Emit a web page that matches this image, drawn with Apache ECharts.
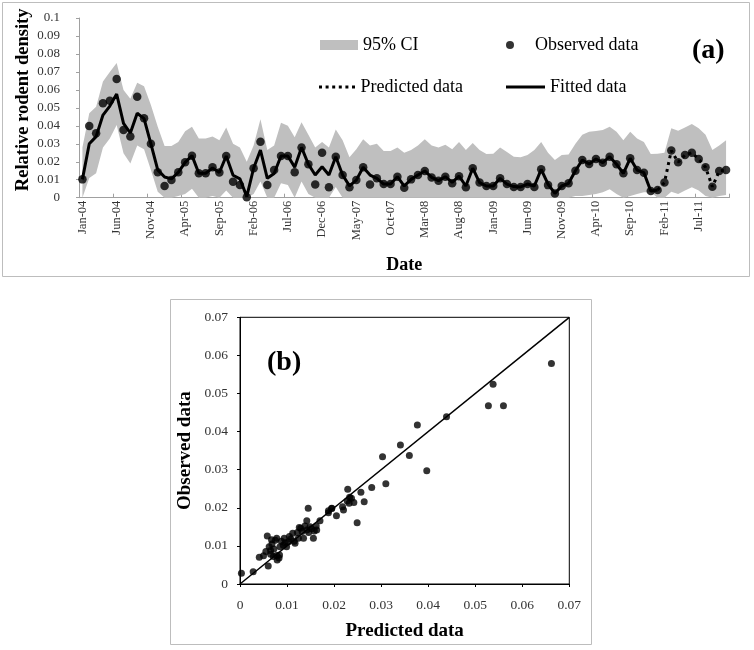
<!DOCTYPE html>
<html><head><meta charset="utf-8">
<script src="https://cdn.jsdelivr.net/npm/echarts@6/dist/echarts.min.js"></script>
<style>html,body{margin:0;padding:0;background:#fff}#c{width:754px;height:650px}</style>
</head><body><div id="c"></div>
<script>
// ---------- Panel (a) data ----------
const months = [
 'Jan-04','Feb-04','Mar-04','Apr-04','May-04','Jun-04','Jul-04','Aug-04','Sep-04','Oct-04','Nov-04','Dec-04',
 'Jan-05','Feb-05','Mar-05','Apr-05','May-05','Jun-05','Jul-05','Aug-05','Sep-05','Oct-05','Nov-05','Dec-05',
 'Jan-06','Feb-06','Mar-06','Apr-06','May-06','Jun-06','Jul-06','Aug-06','Sep-06','Oct-06','Nov-06','Dec-06',
 'Jan-07','Feb-07','Mar-07','Apr-07','May-07','Jun-07','Jul-07','Aug-07','Sep-07','Oct-07','Nov-07','Dec-07',
 'Jan-08','Feb-08','Mar-08','Apr-08','May-08','Jun-08','Jul-08','Aug-08','Sep-08','Oct-08','Nov-08','Dec-08',
 'Jan-09','Feb-09','Mar-09','Apr-09','May-09','Jun-09','Jul-09','Aug-09','Sep-09','Oct-09','Nov-09','Dec-09',
 'Jan-10','Feb-10','Mar-10','Apr-10','May-10','Jun-10','Jul-10','Aug-10','Sep-10','Oct-10','Nov-10','Dec-10',
 'Jan-11','Feb-11','Mar-11','Apr-11','May-11','Jun-11','Jul-11','Aug-11','Sep-11','Oct-11','Nov-11'
];
const observed = [
 0.0102,0.0399,0.0358,0.0525,0.0540,0.0660,0.0377,0.0340,0.0562,0.0442,0.0300,0.0141,
 0.0065,0.0098,0.0141,0.0197,0.0234,0.0136,0.0136,0.0170,0.0140,0.0232,0.0089,0.0071,
 0.0003,0.0164,0.0312,0.0071,0.0154,0.0232,0.0232,0.0141,0.0280,0.0186,0.0074,0.0250,
 0.0058,0.0228,0.0126,0.0058,0.0098,0.0169,0.0074,0.0108,0.0076,0.0076,0.0117,0.0056,
 0.0102,0.0126,0.0149,0.0113,0.0095,0.0117,0.0080,0.0120,0.0058,0.0164,0.0084,0.0065,
 0.0065,0.0108,0.0076,0.0060,0.0060,0.0076,0.0060,0.0158,0.0070,0.0024,0.0065,0.0080,
 0.0150,0.0210,0.0188,0.0215,0.0195,0.0228,0.0186,0.0136,0.0219,0.0154,0.0139,0.0037,
 0.0043,0.0084,0.0262,0.0197,0.0238,0.0250,0.0215,0.0169,0.0061,0.0149,0.0154
];
const fitted = [ // Jan-04 .. Jan-11
 0.0102,0.0300,0.0340,0.0460,0.0510,0.0577,0.0414,0.0360,0.0470,0.0440,0.0300,0.0155,
 0.0115,0.0105,0.0141,0.0197,0.0234,0.0136,0.0136,0.0165,0.0140,0.0232,0.0125,0.0105,
 0.0006,0.0164,0.0265,0.0108,0.0135,0.0232,0.0232,0.0170,0.0280,0.0186,0.0126,0.0172,
 0.0126,0.0228,0.0126,0.0066,0.0098,0.0169,0.0126,0.0108,0.0076,0.0076,0.0117,0.0065,
 0.0102,0.0126,0.0149,0.0113,0.0095,0.0117,0.0085,0.0120,0.0065,0.0164,0.0084,0.0065,
 0.0065,0.0108,0.0076,0.0062,0.0060,0.0076,0.0065,0.0158,0.0075,0.0024,0.0065,0.0080,
 0.0150,0.0210,0.0188,0.0215,0.0195,0.0228,0.0186,0.0136,0.0219,0.0154,0.0139,0.0037,
 0.0043
];
const predictedStart = 84; // Jan-11
const predicted = [0.0043,0.0084,0.0262,0.0197,0.0238,0.0250,0.0215,0.0169,0.0061,0.0149,0.0154];
const ciUpper = [
 0.0280,0.0470,0.0506,0.0646,0.0700,0.0750,0.0600,0.0550,0.0640,0.0620,0.0516,0.0395,
 0.0288,0.0288,0.0310,0.0370,0.0395,0.0330,0.0330,0.0340,0.0320,0.0390,0.0300,0.0280,
 0.0200,0.0290,0.0436,0.0265,0.0290,0.0417,0.0400,0.0336,0.0420,0.0350,0.0280,0.0310,
 0.0280,0.0380,0.0320,0.0225,0.0270,0.0325,0.0290,0.0300,0.0260,0.0260,0.0280,0.0250,
 0.0265,0.0290,0.0325,0.0290,0.0280,0.0295,0.0270,0.0310,0.0265,0.0305,0.0265,0.0243,
 0.0245,0.0280,0.0255,0.0228,0.0225,0.0237,0.0265,0.0310,0.0250,0.0210,0.0237,0.0240,
 0.0300,0.0350,0.0367,0.0371,0.0377,0.0395,0.0367,0.0320,0.0367,0.0330,0.0310,0.0243,
 0.0245,0.0250,0.0386,0.0373,0.0390,0.0410,0.0386,0.0350,0.0265,0.0290,0.0320
];
const ciLower = [
 0.0000,0.0110,0.0136,0.0280,0.0330,0.0405,0.0247,0.0190,0.0290,0.0270,0.0154,0.0033,
 0.0000,0.0000,0.0010,0.0020,0.0050,0.0000,0.0000,0.0010,0.0000,0.0040,0.0000,0.0000,
 0.0000,0.0020,0.0090,0.0000,0.0000,0.0080,0.0070,0.0000,0.0090,0.0020,0.0000,0.0000,
 0.0000,0.0060,0.0000,0.0000,0.0000,0.0000,0.0000,0.0000,0.0000,0.0000,0.0000,0.0000,
 0.0000,0.0000,0.0000,0.0000,0.0000,0.0000,0.0000,0.0000,0.0000,0.0000,0.0000,0.0000,
 0.0000,0.0000,0.0000,0.0000,0.0000,0.0000,0.0000,0.0000,0.0000,0.0000,0.0000,0.0000,
 0.0010,0.0010,0.0015,0.0020,0.0030,0.0047,0.0020,0.0000,0.0010,0.0020,0.0030,0.0030,
 0.0000,0.0000,0.0033,0.0020,0.0040,0.0058,0.0040,0.0010,0.0000,0.0010,0.0015
];

// ---------- Panel (b) data ----------
const scatterPredicted = [
 0.0003,0.0028,0.0041,0.0050,0.0058,0.0060,0.0065,0.0067,0.0071,0.0078,0.0079,0.0084,0.0085,
 0.0094,0.0099,0.0103,0.0112,0.0117,0.0124,0.0129,0.0135,0.0142,0.0145,0.0142,0.0149,0.0156,
 0.0163,0.0170,0.0188,0.0195,0.0205,0.0218,0.0220,0.0229,0.0232,0.0237,0.0242,0.0249,0.0257,
 0.0264,0.0280,0.0303,0.0310,0.0341,0.0360,0.0377,0.0397,0.0439,0.0528,0.0538,0.0560,0.0662,
 0.0055,0.0062,0.0068,0.0072,0.0075,0.0088,0.0092,0.0096,0.0105,0.0108,0.0115,0.0122,0.0126,
 0.0132,0.0138,0.0146,0.0152,0.0158,0.0162,0.0078,0.0083,0.0065,0.0188,0.0195,0.0228,0.0233
];
const scatterObserved = [
 0.0028,0.0032,0.0070,0.0074,0.0126,0.0047,0.0088,0.0116,0.0072,0.0120,0.0063,0.0076,0.0098,
 0.0120,0.0098,0.0111,0.0133,0.0107,0.0120,0.0146,0.0120,0.0166,0.0199,0.0142,0.0150,0.0120,
 0.0142,0.0166,0.0187,0.0199,0.0179,0.0203,0.0194,0.0249,0.0212,0.0225,0.0214,0.0161,0.0241,
 0.0216,0.0253,0.0334,0.0263,0.0365,0.0337,0.0417,0.0297,0.0439,0.0468,0.0524,0.0468,0.0579,
 0.0085,0.0098,0.0105,0.0092,0.0115,0.0112,0.0102,0.0108,0.0125,0.0118,0.0112,0.0135,0.0148,
 0.0138,0.0152,0.0135,0.0145,0.0139,0.0152,0.0075,0.0068,0.0078,0.0192,0.0198,0.0218,0.0228
];
const axisRangeB = [0, 0.07];

// ---------- build ----------
const FONT = 'Liberation Serif';
const fittedFull = months.map((m, i) => i < fitted.length ? fitted[i] : null);
const predictedFull = months.map((m, i) => (i >= predictedStart && i - predictedStart < predicted.length) ? predicted[i - predictedStart] : null);
const ciWidth = ciUpper.map((u, i) => +(u - ciLower[i]).toFixed(5));
const obsPoints = observed.map((v, i) => [i, v]);
const scatterPts = scatterPredicted.map((x, i) => [x, scatterObserved[i]]);
const diag = [[axisRangeB[0], axisRangeB[0]], [axisRangeB[1], axisRangeB[1]]];

const dotPath = 'path://M0,0h3v3h-3zM6.6,0h3v3h-3zM13.2,0h3v3h-3zM19.8,0h3v3h-3zM26.4,0h3v3h-3zM33,0h3v3h-3z';
const legendText = {fontFamily: FONT, fontSize: 18, color: '#000'};

const chart = echarts.init(document.getElementById('c'), null, {renderer: 'canvas'});
chart.setOption({
  animation: false,
  backgroundColor: '#fff',
  textStyle: {fontFamily: FONT},
  graphic: [
    {type: 'rect', shape: {x: 2.5, y: 2.5, width: 747, height: 274}, style: {fill: 'none', stroke: '#bdbdbd', lineWidth: 1}, z: 0},
    {type: 'rect', shape: {x: 170.5, y: 299.5, width: 421, height: 345}, style: {fill: 'none', stroke: '#bdbdbd', lineWidth: 1}, z: 0},
    {type: 'text', left: 692, top: 37, style: {text: '(a)', font: 'bold 28px "Liberation Serif"', fill: '#000'}},
    {type: 'text', left: 267, top: 349, style: {text: '(b)', font: 'bold 28px "Liberation Serif"', fill: '#000'}}
  ],
  legend: [
    {data: [{name: '95% CI', icon: 'rect'}], left: 320, top: 36, padding: 0, itemWidth: 38, itemHeight: 10, selectedMode: false, textStyle: legendText},
    {data: [{name: 'Observed data', icon: 'circle'}], left: 506, top: 36, padding: 0, itemWidth: 40, itemHeight: 8, selectedMode: false, textStyle: legendText},
    {data: [{name: 'Predicted data', icon: dotPath}], left: 319, top: 78, padding: 0, itemWidth: 37, itemHeight: 3, selectedMode: false, textStyle: legendText},
    {data: [{name: 'Fitted data', icon: 'rect'}], left: 506, top: 78, padding: 0, itemWidth: 39, itemHeight: 3, selectedMode: false, textStyle: legendText}
  ],
  grid: [
    {left: 79, right: 24.5, top: 18, bottom: 452.3},
    {left: 240, right: 184.7, top: 317.3, bottom: 66, show: true, borderColor: '#000', borderWidth: 1, backgroundColor: 'transparent'}
  ],
  xAxis: [
    {
      gridIndex: 0, type: 'category', data: months, boundaryGap: true,
      name: 'Date', nameLocation: 'middle', nameGap: 59, nameMoveOverlap: false,
      nameTextStyle: {fontFamily: FONT, fontSize: 18, fontWeight: 'bold', color: '#000'},
      axisLine: {lineStyle: {color: '#a0a0a0', width: 1}},
      axisTick: {show: true, interval: 4, inside: true, length: 4, lineStyle: {color: '#a0a0a0'}},
      axisLabel: {interval: 4, rotate: 90, margin: 3, fontFamily: FONT, fontSize: 12.5, color: '#333'},
      splitLine: {show: false}
    },
    {
      gridIndex: 1, type: 'value', min: 0, max: 0.07, interval: 0.01,
      name: 'Predicted data', nameLocation: 'middle', nameGap: 38, nameMoveOverlap: false,
      nameTextStyle: {fontFamily: FONT, fontSize: 19, fontWeight: 'bold', color: '#000'},
      axisLine: {lineStyle: {color: '#000', width: 1}},
      axisTick: {show: true, length: 3, lineStyle: {color: '#000'}},
      axisLabel: {margin: 14, fontFamily: FONT, fontSize: 13.5, color: '#333'},
      splitLine: {show: false}
    }
  ],
  yAxis: [
    {
      gridIndex: 0, type: 'value', min: 0, max: 0.1, interval: 0.01,
      name: 'Relative rodent density', nameLocation: 'middle', nameGap: 46, nameMoveOverlap: false,
      nameTextStyle: {fontFamily: FONT, fontSize: 18.5, fontWeight: 'bold', color: '#000', padding: [0, 0, 0, 16]},
      axisLine: {show: true, lineStyle: {color: '#a0a0a0', width: 1}},
      axisTick: {show: true, length: 3, lineStyle: {color: '#a0a0a0'}},
      axisLabel: {margin: 19, fontFamily: FONT, fontSize: 13, color: '#333'},
      splitLine: {show: false}
    },
    {
      gridIndex: 1, type: 'value', min: 0, max: 0.07, interval: 0.01,
      name: 'Observed data', nameLocation: 'middle', nameGap: 45, nameMoveOverlap: false,
      nameTextStyle: {fontFamily: FONT, fontSize: 19, fontWeight: 'bold', color: '#000'},
      axisLine: {show: true, lineStyle: {color: '#000', width: 1}},
      axisTick: {show: true, length: 3, lineStyle: {color: '#000'}},
      axisLabel: {margin: 12, fontFamily: FONT, fontSize: 13.5, color: '#333'},
      splitLine: {show: false}
    }
  ],
  series: [
    {name: 'CI lower', type: 'line', xAxisIndex: 0, yAxisIndex: 0, data: ciLower, stack: 'ci', symbol: 'none',
     lineStyle: {opacity: 0}, itemStyle: {color: '#bfbfbf'}, silent: true, z: 1},
    {name: '95% CI', type: 'line', xAxisIndex: 0, yAxisIndex: 0, data: ciWidth, stack: 'ci', symbol: 'none',
     lineStyle: {opacity: 0}, itemStyle: {color: '#bfbfbf'}, areaStyle: {color: '#bfbfbf', opacity: 1}, silent: true, z: 1},
    {name: 'Fitted data', type: 'line', xAxisIndex: 0, yAxisIndex: 0, data: fittedFull, symbol: 'none',
     lineStyle: {color: '#000', width: 3}, itemStyle: {color: '#000'}, z: 3},
    {name: 'Predicted data', type: 'line', xAxisIndex: 0, yAxisIndex: 0, data: predictedFull, symbol: 'none',
     lineStyle: {color: '#000', width: 3, type: [3, 4]}, itemStyle: {color: '#000'}, z: 3},
    {name: 'Observed data', type: 'scatter', xAxisIndex: 0, yAxisIndex: 0, data: obsPoints, symbol: 'circle', symbolSize: 8.5,
     itemStyle: {color: '#000'}, z: 4},
    {name: '1:1 line', type: 'line', xAxisIndex: 1, yAxisIndex: 1, data: diag, symbol: 'none',
     lineStyle: {color: '#000', width: 1.5}, z: 2},
    {name: 'Observed vs predicted', type: 'scatter', xAxisIndex: 1, yAxisIndex: 1, data: scatterPts, symbol: 'circle', symbolSize: 7,
     itemStyle: {color: '#000'}, z: 3}
  ]
});
</script></body></html>
